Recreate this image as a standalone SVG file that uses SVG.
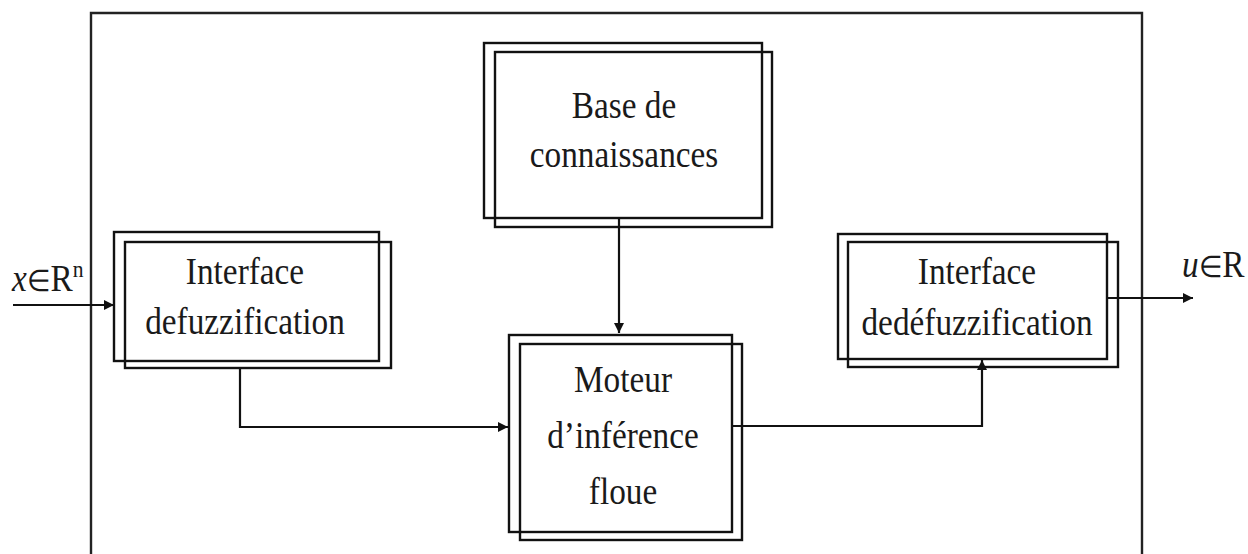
<svg xmlns="http://www.w3.org/2000/svg" width="1248" height="554" viewBox="0 0 1248 554">
<style>
  .box { fill: none; stroke: #111; stroke-width: 2.4; }
  .frame { fill: none; stroke: #222; stroke-width: 2.4; }
  .wire { fill: none; stroke: #111; stroke-width: 2.2; }
  .lbl { font-size: 37px; fill: #1a1a1a; text-anchor: middle; }
  .io { font-size: 37px; fill: #1a1a1a; }
</style>
<defs>
  <marker id="ah" viewBox="0 0 10 10" refX="10" refY="5" markerWidth="11" markerHeight="10" orient="auto" markerUnits="userSpaceOnUse">
    <path d="M0,0 L10,5 L0,10 z" fill="#111"/>
  </marker>
</defs>
<rect width="1248" height="554" fill="#fff"/>
<path id="frame" class="frame" d="M91,560 L91,13 L1142,13 L1142,560"/>

<g id="fuzzification" font-family="Liberation Serif">
  <rect class="box" x="114" y="232" width="265" height="129"/>
  <rect class="box" x="125" y="242" width="266" height="126"/>
  <text class="lbl" transform="translate(245,0) scale(0.9,1)" x="0" y="284">Interface</text>
  <text class="lbl" transform="translate(245,0) scale(0.9,1)" x="0" y="334">defuzzification</text>
</g>

<g id="base" font-family="Liberation Serif">
  <rect class="box" x="484" y="43" width="278" height="175"/>
  <rect class="box" x="495" y="52" width="277" height="175"/>
  <text class="lbl" transform="translate(624,0) scale(0.9,1)" x="0" y="118">Base de</text>
  <text class="lbl" transform="translate(624,0) scale(0.9,1)" x="0" y="167">connaissances</text>
</g>

<g id="moteur" font-family="Liberation Serif">
  <rect class="box" x="509" y="335" width="223" height="197"/>
  <rect class="box" x="520" y="344" width="222" height="196"/>
  <text class="lbl" transform="translate(623,0) scale(0.9,1)" x="0" y="392">Moteur</text>
  <text class="lbl" transform="translate(623,0) scale(0.9,1)" x="0" y="448">d’inférence</text>
  <text class="lbl" transform="translate(623,0) scale(0.9,1)" x="0" y="504">floue</text>
</g>

<g id="defuzzification" font-family="Liberation Serif">
  <rect class="box" x="838" y="234" width="269" height="125"/>
  <rect class="box" x="848" y="242" width="270" height="125"/>
  <text class="lbl" transform="translate(977,0) scale(0.9,1)" x="0" y="284">Interface</text>
  <text class="lbl" transform="translate(977,0) scale(0.9,1)" x="0" y="335">dedéfuzzification</text>
</g>

<g id="connectors">
  <path class="wire" d="M13,305 L114,305" marker-end="url(#ah)"/>
  <path class="wire" d="M619,218 L619,333" marker-end="url(#ah)"/>
  <path class="wire" d="M240,368 L240,427 L508,427" marker-end="url(#ah)"/>
  <path class="wire" d="M732,426 L982,426 L982,360" marker-end="url(#ah)"/>
  <path class="wire" d="M1107,298 L1193,298" marker-end="url(#ah)"/>
</g>

<g id="labels" font-family="Liberation Serif">
  <text class="io" transform="translate(12,0) scale(0.9,1)" x="0" y="291"><tspan font-style="italic">x</tspan><tspan font-size="30">∈</tspan>R<tspan font-size="24" dy="-14">n</tspan></text>
  <text class="io" transform="translate(1182,0) scale(0.9,1)" x="0" y="277"><tspan font-style="italic">u</tspan><tspan font-size="30">∈</tspan>R</text>
</g>
</svg>
